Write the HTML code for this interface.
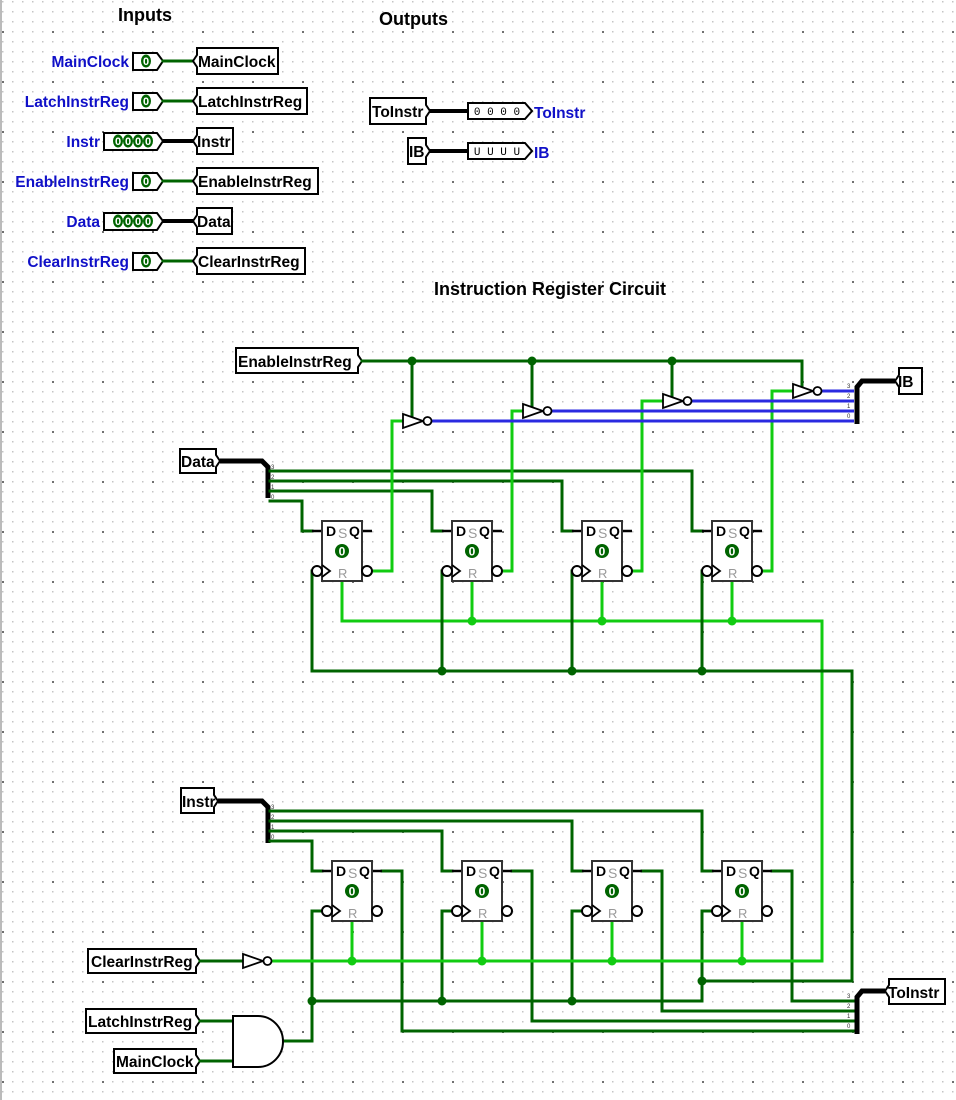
<!DOCTYPE html>
<html><head><meta charset="utf-8"><style>
html,body{margin:0;padding:0;background:#fff;}
svg{display:block;font-family:"Liberation Sans",sans-serif;}
.dk{stroke:#006400;stroke-width:3;fill:none;stroke-linecap:square}
.lt{stroke:#11cc11;stroke-width:3;fill:none;stroke-linecap:square}
.bl{stroke:#2a2ae0;stroke-width:3;fill:none}
.bus{stroke:#000;stroke-width:5;fill:none}
.tn{fill:#fff;stroke:#000;stroke-width:2}
.t{font-size:15.5px;font-weight:bold;fill:#000}
.lb{font-size:15.5px;font-weight:bold;fill:#1010c8}
.jd{fill:#006400}.jl{fill:#11cc11}
.pv{fill:#006400}
.pt{font-size:11px;font-weight:bold;fill:#fff;text-anchor:middle}
</style></head><body>
<svg width="956" height="1100" viewBox="0 0 956 1100" xmlns="http://www.w3.org/2000/svg">
<defs>
<pattern id="g" x="2" y="1" width="10" height="10" patternUnits="userSpaceOnUse"><rect x="0" y="0" width="1.5" height="1.5" fill="#c4c4c4"/></pattern>
<pattern id="g2" x="2" y="31" width="50" height="50" patternUnits="userSpaceOnUse"><rect x="0" y="0" width="2" height="2" fill="#707070"/></pattern>
<g id="ff">
<line x1="-10" y1="10" x2="0" y2="10" stroke="#000" stroke-width="2.5"/>
<line x1="40" y1="10" x2="50" y2="10" stroke="#000" stroke-width="2.5"/>
<rect x="0" y="0" width="40" height="60" fill="#fff" stroke="#333" stroke-width="2"/>
<text x="4" y="15" font-size="14" font-weight="bold">D</text>
<text x="16" y="17" font-size="14" fill="#999">S</text>
<text x="27" y="15" font-size="14" font-weight="bold">Q</text>
<circle cx="20" cy="30" r="7" fill="#006400"/>
<text x="20" y="34.5" font-size="12" font-weight="bold" fill="#fff" text-anchor="middle">0</text>
<text x="16" y="57" font-size="13" fill="#999">R</text>
<polyline points="0,44 8,50 0,56" fill="none" stroke="#000" stroke-width="1.8"/>
<circle cx="-5" cy="50" r="5" fill="#fff" stroke="#000" stroke-width="2"/>
<circle cx="45" cy="50" r="5" fill="#fff" stroke="#000" stroke-width="2"/>
</g>
<g id="inv">
<polygon points="3,-7 23,0 3,7" fill="#fff" stroke="#000" stroke-width="1.8"/>
<circle cx="27.5" cy="0" r="4" fill="#fff" stroke="#000" stroke-width="1.8"/>
</g>
</defs>
<rect width="956" height="1100" fill="url(#g)"/>
<rect width="956" height="1100" fill="url(#g2)"/>
<line x1="1" y1="0" x2="1" y2="1100" stroke="#bbb" stroke-width="2"/>

<text x="118" y="21" font-size="18" font-weight="bold">Inputs</text>
<text x="379" y="25" font-size="18" font-weight="bold">Outputs</text>
<text x="434" y="295" font-size="18" font-weight="bold">Instruction Register Circuit</text>

<g>
<text class="lb" x="129" y="67" text-anchor="end">MainClock</text>
<polygon class="tn" points="133,53 157,53 163,61 157,70 133,70"/><ellipse class="pv" cx="146" cy="61" rx="5" ry="6.5"/><text class="pt" x="146" y="65">0</text>
<line class="dk" x1="163" y1="61" x2="193" y2="61"/>
<polygon class="tn" points="193,61 197,55 197,48 278,48 278,74 197,74 197,67"/><text class="t" x="198" y="67">MainClock</text>

<text class="lb" x="129" y="107" text-anchor="end">LatchInstrReg</text>
<polygon class="tn" points="133,93 157,93 163,101 157,110 133,110"/><ellipse class="pv" cx="146" cy="101" rx="5" ry="6.5"/><text class="pt" x="146" y="105">0</text>
<line class="dk" x1="163" y1="101" x2="193" y2="101"/>
<polygon class="tn" points="193,101 197,95 197,88 307,88 307,114 197,114 197,107"/><text class="t" x="198" y="107">LatchInstrReg</text>

<text class="lb" x="100" y="147" text-anchor="end">Instr</text>
<polygon class="tn" points="104,133 157,133 163,141 157,150 104,150"/>
<ellipse class="pv" cx="118" cy="141" rx="5" ry="6.5"/><ellipse class="pv" cx="128" cy="141" rx="5" ry="6.5"/><ellipse class="pv" cx="138" cy="141" rx="5" ry="6.5"/><ellipse class="pv" cx="148" cy="141" rx="5" ry="6.5"/>
<text class="pt" x="118" y="145">0</text><text class="pt" x="128" y="145">0</text><text class="pt" x="138" y="145">0</text><text class="pt" x="148" y="145">0</text>
<line x1="163" y1="141" x2="193" y2="141" stroke="#000" stroke-width="4"/>
<polygon class="tn" points="193,141 197,135 197,128 233,128 233,154 197,154 197,147"/><text class="t" x="197" y="147">Instr</text>

<text class="lb" x="129" y="187" text-anchor="end">EnableInstrReg</text>
<polygon class="tn" points="133,173 157,173 163,181 157,190 133,190"/><ellipse class="pv" cx="146" cy="181" rx="5" ry="6.5"/><text class="pt" x="146" y="185">0</text>
<line class="dk" x1="163" y1="181" x2="193" y2="181"/>
<polygon class="tn" points="193,181 197,175 197,168 318,168 318,194 197,194 197,187"/><text class="t" x="198" y="187">EnableInstrReg</text>

<text class="lb" x="100" y="227" text-anchor="end">Data</text>
<polygon class="tn" points="104,213 157,213 163,221 157,230 104,230"/>
<ellipse class="pv" cx="118" cy="221" rx="5" ry="6.5"/><ellipse class="pv" cx="128" cy="221" rx="5" ry="6.5"/><ellipse class="pv" cx="138" cy="221" rx="5" ry="6.5"/><ellipse class="pv" cx="148" cy="221" rx="5" ry="6.5"/>
<text class="pt" x="118" y="225">0</text><text class="pt" x="128" y="225">0</text><text class="pt" x="138" y="225">0</text><text class="pt" x="148" y="225">0</text>
<line x1="163" y1="221" x2="193" y2="221" stroke="#000" stroke-width="4"/>
<polygon class="tn" points="193,221 197,215 197,208 232,208 232,234 197,234 197,227"/><text class="t" x="197" y="227">Data</text>

<text class="lb" x="129" y="267" text-anchor="end">ClearInstrReg</text>
<polygon class="tn" points="133,253 157,253 163,261 157,270 133,270"/><ellipse class="pv" cx="146" cy="261" rx="5" ry="6.5"/><text class="pt" x="146" y="265">0</text>
<line class="dk" x1="163" y1="261" x2="193" y2="261"/>
<polygon class="tn" points="193,261 197,255 197,248 305,248 305,274 197,274 197,267"/><text class="t" x="198" y="267">ClearInstrReg</text>
</g>

<polygon class="tn" points="370,98 426,98 426,105 430,111 426,117 426,124 370,124"/><text class="t" x="372" y="117">ToInstr</text>
<line x1="430" y1="111" x2="468" y2="111" stroke="#000" stroke-width="4"/>
<polygon class="tn" points="468,103 525,103 532,111 525,119 468,119"/><text x="497" y="115" font-size="11" text-anchor="middle" font-family="Liberation Mono,monospace">0 0 0 0</text>
<text class="lb" x="534" y="118">ToInstr</text>
<polygon class="tn" points="408,138 426,138 426,145 430,151 426,157 426,164 408,164"/><text class="t" x="409" y="157">IB</text>
<line x1="430" y1="151" x2="468" y2="151" stroke="#000" stroke-width="4"/>
<polygon class="tn" points="468,143 525,143 532,151 525,159 468,159"/><text x="497" y="155" font-size="11" text-anchor="middle" font-family="Liberation Mono,monospace">U U U U</text>
<text class="lb" x="534" y="158">IB</text>

<polygon class="tn" points="236,348 358,348 358,355 362,361 358,367 358,373 236,373"/><text class="t" x="238" y="367">EnableInstrReg</text>
<polyline class="dk" points="362,361 802,361 802,387"/>
<line class="dk" x1="412" y1="361" x2="412" y2="417"/>
<line class="dk" x1="532" y1="361" x2="532" y2="407"/>
<line class="dk" x1="672" y1="361" x2="672" y2="397"/>
<circle class="jd" cx="412" cy="361" r="4.5"/><circle class="jd" cx="532" cy="361" r="4.5"/><circle class="jd" cx="672" cy="361" r="4.5"/>

<polygon class="tn" points="180,449 216,449 216,455 220,461 216,467 216,473 180,473"/><text class="t" x="181" y="467">Data</text>
<polyline class="bus" points="220,461 262,461 268,467 268,498"/>
<polyline class="dk" points="270,471 692,471 692,531 702,531"/>
<polyline class="dk" points="270,481 562,481 562,531 572,531"/>
<polyline class="dk" points="270,491 432,491 432,531 442,531"/>
<polyline class="dk" points="270,501 302,501 302,531 312,531"/>
<g font-size="6" fill="#333"><text x="271" y="469">3</text><text x="271" y="479">2</text><text x="271" y="489">1</text><text x="271" y="499">0</text></g>

<polyline class="lt" points="342,581 342,621 822,621 822,961"/>
<line class="lt" x1="472" y1="581" x2="472" y2="621"/>
<line class="lt" x1="602" y1="581" x2="602" y2="621"/>
<line class="lt" x1="732" y1="581" x2="732" y2="621"/>
<circle class="jl" cx="472" cy="621" r="4.5"/><circle class="jl" cx="602" cy="621" r="4.5"/><circle class="jl" cx="732" cy="621" r="4.5"/>

<polyline class="dk" points="312,571 312,671 852,671 852,981 702,981"/>
<line class="dk" x1="442" y1="571" x2="442" y2="671"/>
<line class="dk" x1="572" y1="571" x2="572" y2="671"/>
<line class="dk" x1="702" y1="571" x2="702" y2="671"/>
<circle class="jd" cx="442" cy="671" r="4.5"/><circle class="jd" cx="572" cy="671" r="4.5"/><circle class="jd" cx="702" cy="671" r="4.5"/>

<polyline class="lt" points="371,571 392,571 392,421 402,421"/>
<polyline class="lt" points="501,571 512,571 512,411 522,411"/>
<polyline class="lt" points="631,571 642,571 642,401 662,401"/>
<polyline class="lt" points="761,571 772,571 772,391 792,391"/>

<line class="bl" x1="431" y1="421" x2="854" y2="421"/>
<line class="bl" x1="551" y1="411" x2="854" y2="411"/>
<line class="bl" x1="691" y1="401" x2="854" y2="401"/>
<line class="bl" x1="821" y1="391" x2="854" y2="391"/>
<use href="#inv" x="400" y="421"/>
<use href="#inv" x="520" y="411"/>
<use href="#inv" x="660" y="401"/>
<use href="#inv" x="790" y="391"/>
<g font-size="6" fill="#333"><text x="847" y="388">3</text><text x="847" y="398">2</text><text x="847" y="408">1</text><text x="847" y="418">0</text></g>
<polyline class="bus" points="857,424 857,387 862,381 895,381"/>
<polygon class="tn" points="895,381 899,375 899,368 922,368 922,394 899,394 899,387"/><text class="t" x="898" y="387">IB</text>

<use href="#ff" x="322" y="521"/>
<use href="#ff" x="452" y="521"/>
<use href="#ff" x="582" y="521"/>
<use href="#ff" x="712" y="521"/>

<polygon class="tn" points="181,788 214,788 214,795 218,801 214,807 214,813 181,813"/><text class="t" x="182" y="807">Instr</text>
<polyline class="bus" points="218,801 262,801 268,807 268,843"/>
<polyline class="dk" points="270,811 702,811 702,871 712,871"/>
<polyline class="dk" points="270,821 572,821 572,871 582,871"/>
<polyline class="dk" points="270,831 442,831 442,871 452,871"/>
<polyline class="dk" points="270,841 312,841 312,871 322,871"/>
<g font-size="6" fill="#333"><text x="271" y="809">3</text><text x="271" y="819">2</text><text x="271" y="829">1</text><text x="271" y="839">0</text></g>

<polyline class="dk" points="382,871 402,871 402,1031 854,1031"/>
<polyline class="dk" points="512,871 532,871 532,1021 854,1021"/>
<polyline class="dk" points="642,871 662,871 662,1011 854,1011"/>
<polyline class="dk" points="772,871 792,871 792,1001 854,1001"/>
<g font-size="6" fill="#333"><text x="847" y="998">3</text><text x="847" y="1008">2</text><text x="847" y="1018">1</text><text x="847" y="1028">0</text></g>
<polyline class="bus" points="857,1034 857,997 862,991 885,991"/>
<polygon class="tn" points="885,991 889,985 889,979 945,979 945,1004 889,1004 889,997"/><text class="t" x="888" y="998">ToInstr</text>

<polyline class="dk" points="283,1041 312,1041 312,911 322,911"/>
<polyline class="dk" points="312,1001 702,1001 702,911 712,911"/>
<polyline class="dk" points="442,1001 442,911 452,911"/>
<polyline class="dk" points="572,1001 572,911 582,911"/>
<circle class="jd" cx="312" cy="1001" r="4.5"/><circle class="jd" cx="442" cy="1001" r="4.5"/><circle class="jd" cx="572" cy="1001" r="4.5"/><circle class="jd" cx="702" cy="981" r="4.5"/>

<line class="lt" x1="272" y1="961" x2="822" y2="961"/>
<line class="lt" x1="352" y1="921" x2="352" y2="961"/>
<line class="lt" x1="482" y1="921" x2="482" y2="961"/>
<line class="lt" x1="612" y1="921" x2="612" y2="961"/>
<line class="lt" x1="742" y1="921" x2="742" y2="961"/>
<circle class="jl" cx="352" cy="961" r="4.5"/><circle class="jl" cx="482" cy="961" r="4.5"/><circle class="jl" cx="612" cy="961" r="4.5"/><circle class="jl" cx="742" cy="961" r="4.5"/>

<polygon class="tn" points="88,949 196,949 196,955 200,961 196,967 196,973 88,973"/><text class="t" x="91" y="967">ClearInstrReg</text>
<line class="dk" x1="200" y1="961" x2="243" y2="961"/>
<use href="#inv" x="240" y="961"/>

<polygon class="tn" points="86,1009 196,1009 196,1015 200,1021 196,1027 196,1033 86,1033"/><text class="t" x="88" y="1027">LatchInstrReg</text>
<polygon class="tn" points="114,1049 196,1049 196,1055 200,1061 196,1067 196,1073 114,1073"/><text class="t" x="116" y="1067">MainClock</text>
<line class="dk" x1="200" y1="1021" x2="233" y2="1021"/>
<line class="dk" x1="200" y1="1061" x2="233" y2="1061"/>
<path d="M233,1016 L258,1016 A25,25.5 0 0 1 258,1067 L233,1067 Z" fill="#fff" stroke="#000" stroke-width="2"/>

<use href="#ff" x="332" y="861"/>
<use href="#ff" x="462" y="861"/>
<use href="#ff" x="592" y="861"/>
<use href="#ff" x="722" y="861"/>
</svg>
</body></html>
